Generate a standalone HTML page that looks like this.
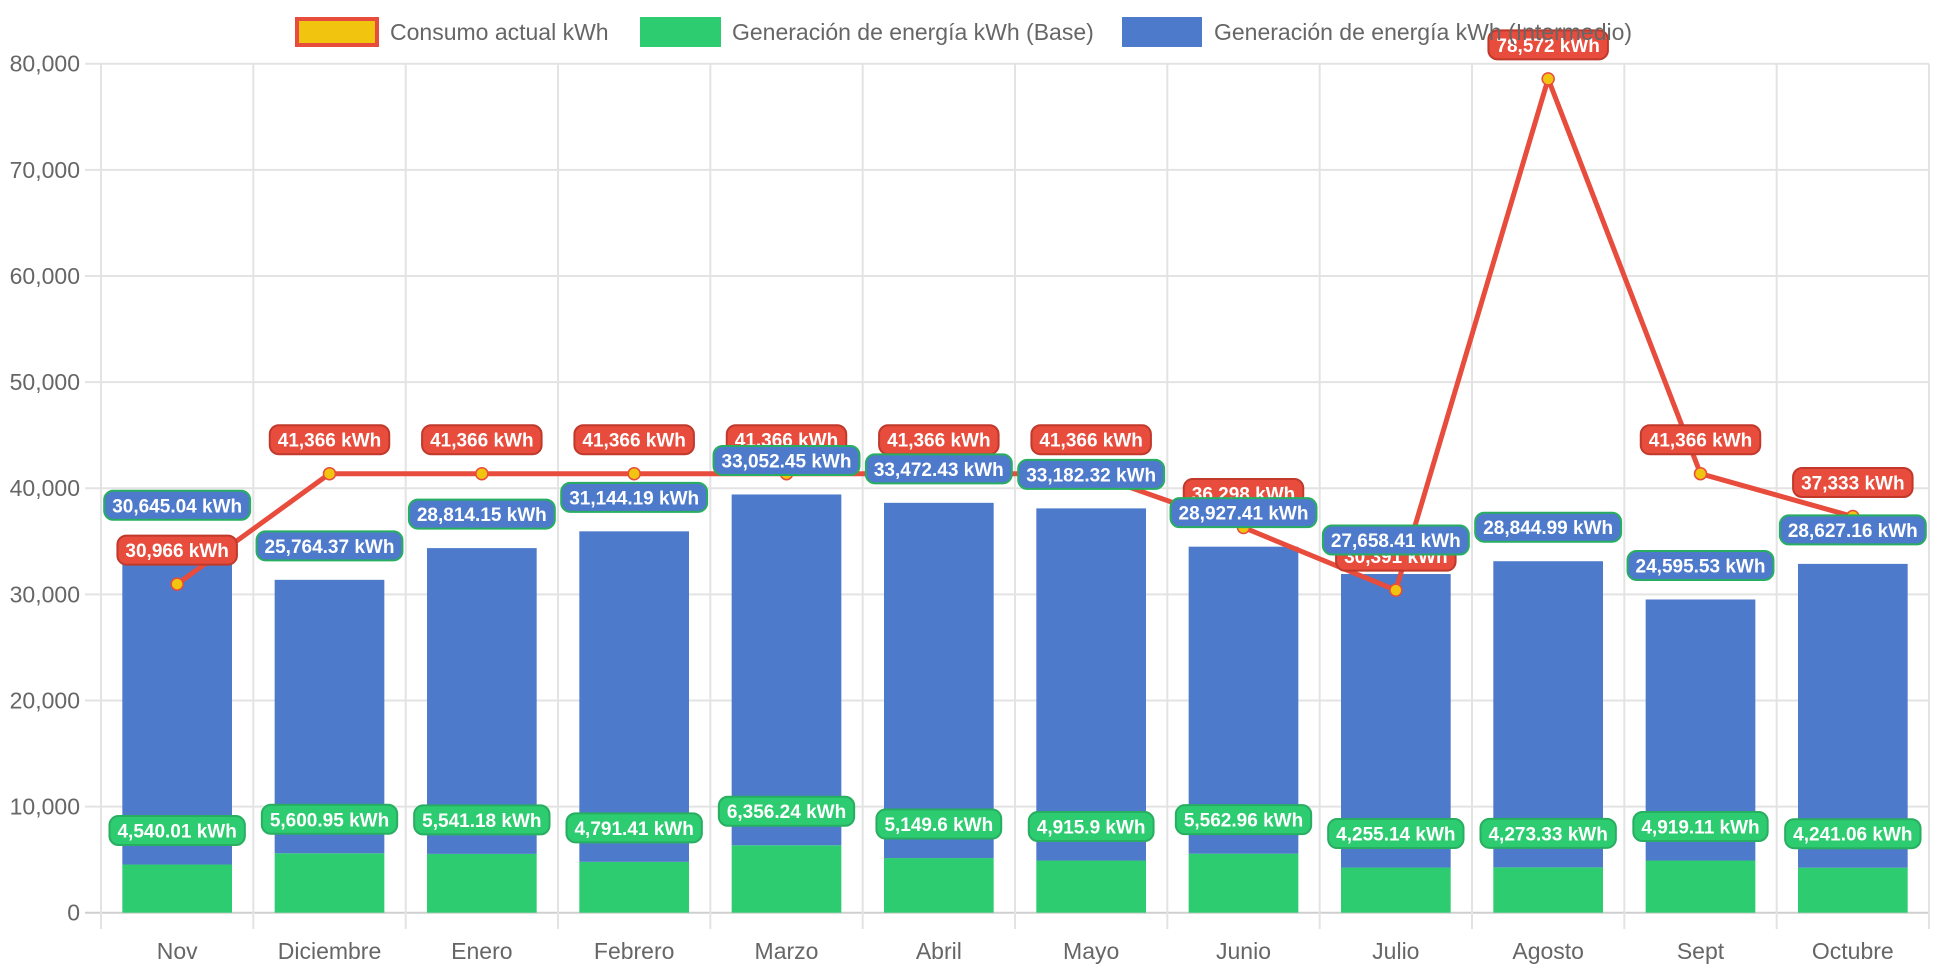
<!DOCTYPE html>
<html><head><meta charset="utf-8">
<style>
html,body{margin:0;padding:0;background:#fff;}
svg{display:block;font-family:"Liberation Sans",Helvetica,Arial,sans-serif;}
</style></head>
<body>
<svg id="chart" width="1942" height="970" viewBox="0 0 1942 970">
  <g id="grid"></g>
  <g id="bars"></g>
  <g id="line"></g>
  <g id="labels"></g>
  <g id="legend">
    <g>
      <rect x="297" y="19" width="80" height="26" fill="#f1c40f" stroke="#e74c3c" stroke-width="4"/>
      <text x="390" y="40" font-size="23" fill="#666">Consumo actual kWh</text>
    </g>
    <g>
      <rect x="640" y="17" width="81" height="30" fill="#2ecc71"/>
      <text x="732" y="40" font-size="23" fill="#666">Generación de energía kWh (Base)</text>
    </g>
    <g>
      <rect x="1122" y="17" width="80" height="30" fill="#4e7acb"/>
      <text x="1214" y="40" font-size="23" fill="#666">Generación de energía kWh (Intermedio)</text>
    </g>
  </g>
</svg>
<script>
const categories = ["Nov","Diciembre","Enero","Febrero","Marzo","Abril","Mayo","Junio","Julio","Agosto","Sept","Octubre"];
const baseValues = [4540.01,5600.95,5541.18,4791.41,6356.24,5149.6,4915.9,5562.96,4255.14,4273.33,4919.11,4241.06];
const intermValues = [30645.04,25764.37,28814.15,31144.19,33052.45,33472.43,33182.32,28927.41,27658.41,28844.99,24595.53,28627.16];
const consumoValues = [30966,41366,41366,41366,41366,41366,41366,36298,30391,78572,41366,37333];
const yTicks = [0,10000,20000,30000,40000,50000,60000,70000,80000];

const NS = "http://www.w3.org/2000/svg";
const L = 101, R = 1929, T = 63.7, B = 912.7, YMAX = 80000;
const bw = (R - L) / categories.length;
function xC(i){ return L + bw * (i + 0.5); }
function yV(v){ return B - v / YMAX * (B - T); }
function mk(tag, attrs, parent){
  const e = document.createElementNS(NS, tag);
  for (const k in attrs) e.setAttribute(k, attrs[k]);
  parent.appendChild(e); return e;
}
const grid = document.getElementById('grid');
yTicks.forEach(function(t){
  const y = yV(t);
  const ln = mk('line',{x1:85,x2:R,y1:y,y2:y,stroke:t===0?'#cfcfcf':'#e3e3e3','stroke-width':2},grid);
  
  
  const tx = mk('text',{x:80,y:y+8,'text-anchor':'end','font-size':23,fill:'#666'},grid);
  tx.textContent = t.toLocaleString('en-US');
  
  
});
for (let i = 0; i <= categories.length; i++){
  const x = L + bw * i;
  const ln = mk('line',{x1:x,x2:x,y1:T,y2:929,stroke:'#e3e3e3','stroke-width':2},grid);
  
  
}
categories.forEach(function(c,i){
  const tx = mk('text',{x:xC(i),y:959,'text-anchor':'middle','font-size':23,fill:'#666'},grid);
  tx.textContent = c;
  
  
});
const bars = document.getElementById('bars');
const barW = bw * 0.72;
categories.forEach(function(c,i){
  const x = xC(i) - barW/2;
  const g = mk('rect',{x:x,y:yV(baseValues[i]),width:barW,height:B - yV(baseValues[i]),fill:'#2ecc71'},bars);
  
  
  const top = baseValues[i] + intermValues[i];
  const b = mk('rect',{x:x,y:yV(top),width:barW,height:yV(baseValues[i]) - yV(top),fill:'#4e7acb'},bars);
  
  
});
const lineG = document.getElementById('line');
const pts = consumoValues.map(function(v,i){ return xC(i)+','+yV(v); }).join(' ');
const pl = mk('polyline',{points:pts,fill:'none',stroke:'#e74c3c','stroke-width':5,'stroke-linejoin':'round'},lineG);


consumoValues.forEach(function(v,i){
  const p = mk('circle',{cx:xC(i),cy:yV(v),r:6,fill:'#f1c40f',stroke:'#e74c3c','stroke-width':1.5},lineG);
  
  
});
const labels = document.getElementById('labels');
function fmt(v){ return v.toLocaleString('en-US',{maximumFractionDigits:2}) + ' kWh'; }
function label(cx, cy, text, bg, border, name){
  const g = mk('g',{},labels);
  
  
  const t = mk('text',{x:cx,y:cy+7,'text-anchor':'middle','font-size':19,'font-weight':'bold',fill:'#fff'},g);
  t.textContent = text;
  const w = t.getComputedTextLength() + 16;
  const r = mk('rect',{x:cx-w/2,y:cy-14.5,width:w,height:29,rx:9,fill:bg,stroke:border,'stroke-width':2},g);
  g.insertBefore(r,t);
}
baseValues.forEach(function(v,i){ label(xC(i), yV(v)-34, fmt(v), '#2ecc71', '#27ae60', 'label-base'); });
consumoValues.forEach(function(v,i){ label(xC(i), yV(v)-34, fmt(v), '#e74c3c', '#c0392b', 'label-consumo'); });
intermValues.forEach(function(v,i){ label(xC(i), yV(v+baseValues[i])-34, fmt(v), '#4e7acb', '#27ae60', 'label-intermedio'); });
</script>
</body></html>
